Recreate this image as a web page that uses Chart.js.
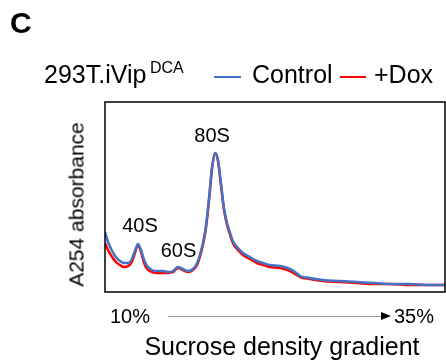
<!DOCTYPE html>
<html>
<head>
<meta charset="utf-8">
<script src="https://cdn.jsdelivr.net/npm/chart.js@4.4.0/dist/chart.umd.min.js"></script>
<style>
  html, body { margin: 0; padding: 0; background: #fff; }
  #wrap { position: relative; width: 446px; height: 360px; overflow: hidden; font-family: "Liberation Sans", Arial, sans-serif; color: #000; }
  #wrap canvas { position: absolute; left: 0; top: 0; }
  .t { position: absolute; white-space: nowrap; line-height: 1; }
  .key { position: absolute; height: 2px; }
</style>
</head>
<body>
<div id="wrap">
  <canvas id="Chart" width="446" height="360"></canvas>
  <div class="t" style="left:10px;top:8px;font-size:30px;font-weight:bold">C</div>
  <div class="t" style="left:44px;top:62px;font-size:25px">293T.iVip</div>
  <div class="t" style="left:150px;top:60px;font-size:16px">DCA</div>
  <div class="key" style="left:214px;top:76px;width:27px;background:#4472C4"></div>
  <div class="t" style="left:252px;top:62px;font-size:25px">Control</div>
  <div class="key" style="left:340px;top:76px;width:26px;background:#FF0000"></div>
  <div class="t" style="left:374px;top:62px;font-size:25px">+Dox</div>
  <div class="t" style="left:-24px;top:194px;width:200px;height:21px;line-height:21px;font-size:21px;text-align:center;transform:rotate(-90deg)">A254 absorbance</div>
  <div class="t" style="left:110px;top:306px;font-size:20px">10%</div>
  <div style="position:absolute;left:168px;top:316px;width:214px;height:1px;background:#999"></div>
  <div style="position:absolute;left:381px;top:312px;width:0;height:0;border-top:4.5px solid transparent;border-bottom:4.5px solid transparent;border-left:10px solid #000"></div>
  <div class="t" style="left:394px;top:306px;font-size:20px">35%</div>
  <div class="t" style="left:82px;top:334px;width:400px;font-size:25px;text-align:center">Sucrose density gradient</div>
</div>
<script>
// position along the gradient, % of tube length (top -> bottom)
var position = [0, 0.9, 2.1, 3.2, 4.4, 5.6, 6.8, 7.9, 8.8, 9.7, 10.6, 11.5, 12.4, 13.8, 15.3, 17.1, 18.5, 20.0, 21.5, 22.9, 24.4, 25.9, 27.1, 27.9, 28.8, 29.7, 30.6, 31.5, 32.4, 33.2, 34.1, 35.0, 35.9, 36.8, 37.6, 39.1, 40.6, 42.6, 44.7, 46.5, 48.5, 51.5, 54.4, 55.9, 57.4, 60.3, 64.1, 69.1, 74.1, 79.4, 83.8, 89.7, 95.6, 100];

// A254 absorbance (a.u.)
var control = [0.60, 0.50, 0.41, 0.35, 0.31, 0.29, 0.29, 0.33, 0.41, 0.48, 0.42, 0.32, 0.26, 0.22, 0.21, 0.21, 0.20, 0.21, 0.25, 0.23, 0.21, 0.23, 0.29, 0.37, 0.49, 0.66, 0.94, 1.25, 1.39, 1.32, 1.09, 0.84, 0.69, 0.59, 0.51, 0.44, 0.39, 0.35, 0.31, 0.29, 0.27, 0.26, 0.23, 0.20, 0.16, 0.14, 0.12, 0.11, 0.10, 0.09, 0.08, 0.08, 0.07, 0.07];
var dox = [0.49, 0.42, 0.35, 0.30, 0.27, 0.25, 0.26, 0.30, 0.39, 0.47, 0.40, 0.29, 0.23, 0.20, 0.19, 0.19, 0.19, 0.20, 0.24, 0.22, 0.20, 0.22, 0.27, 0.35, 0.47, 0.64, 0.92, 1.24, 1.39, 1.32, 1.07, 0.82, 0.67, 0.57, 0.49, 0.42, 0.37, 0.33, 0.29, 0.27, 0.25, 0.24, 0.21, 0.18, 0.15, 0.13, 0.11, 0.10, 0.09, 0.08, 0.08, 0.07, 0.07, 0.07];

// ribosome peak labels (position, label baseline height)
var peakNames = ["40S", "60S", "80S"];
var peakX = [10.3, 21.6, 31.5];
var peakY = [0.60, 0.35, 1.50];

function toPoints(ys) {
  return position.map(function (x, i) { return { x: x, y: ys[i] }; });
}

var frameAndLabels = {
  id: "frameAndLabels",
  afterDatasetsDraw: function (chart) {
    var ctx = chart.ctx;
    var a = chart.chartArea;
    ctx.save();
    ctx.strokeStyle = "#000";
    ctx.lineWidth = 1.5;
    ctx.strokeRect(a.left, a.top, a.right - a.left, a.bottom - a.top);
    ctx.font = '20px "Liberation Sans", Arial, sans-serif';
    ctx.fillStyle = "#000";
    ctx.textAlign = "center";
    ctx.textBaseline = "alphabetic";
    for (var i = 0; i < peakNames.length; i++) {
      ctx.fillText(peakNames[i], chart.scales.x.getPixelForValue(peakX[i]), chart.scales.y.getPixelForValue(peakY[i]));
    }
    ctx.restore();
  },
};

function initializeChart() {
  var ctx = document.getElementById("Chart").getContext("2d");
  window.myChart = new Chart(ctx, {
    type: "line",
    data: {
      datasets: [
        {
          label: "Control",
          data: toPoints(control),
          borderColor: "#4472C4",
          borderWidth: 2.5,
          pointRadius: 0,
          cubicInterpolationMode: "monotone",
        },
        {
          label: "+Dox",
          data: toPoints(dox),
          borderColor: "#FF0000",
          borderWidth: 2.5,
          pointRadius: 0,
          cubicInterpolationMode: "monotone",
        },
      ],
    },
    options: {
      animation: false,
      responsive: false,
      devicePixelRatio: 1,
      layout: { padding: { left: 105, top: 102, right: 1, bottom: 68 } },
      scales: {
        x: { type: "linear", min: 0, max: 100, display: false },
        y: { min: 0, max: 1.9, display: false },
      },
      plugins: {
        legend: { display: false },
        tooltip: { enabled: false },
      },
    },
    plugins: [frameAndLabels],
  });
}

window.onload = function () {
  initializeChart();
};
</script>
</body>
</html>
